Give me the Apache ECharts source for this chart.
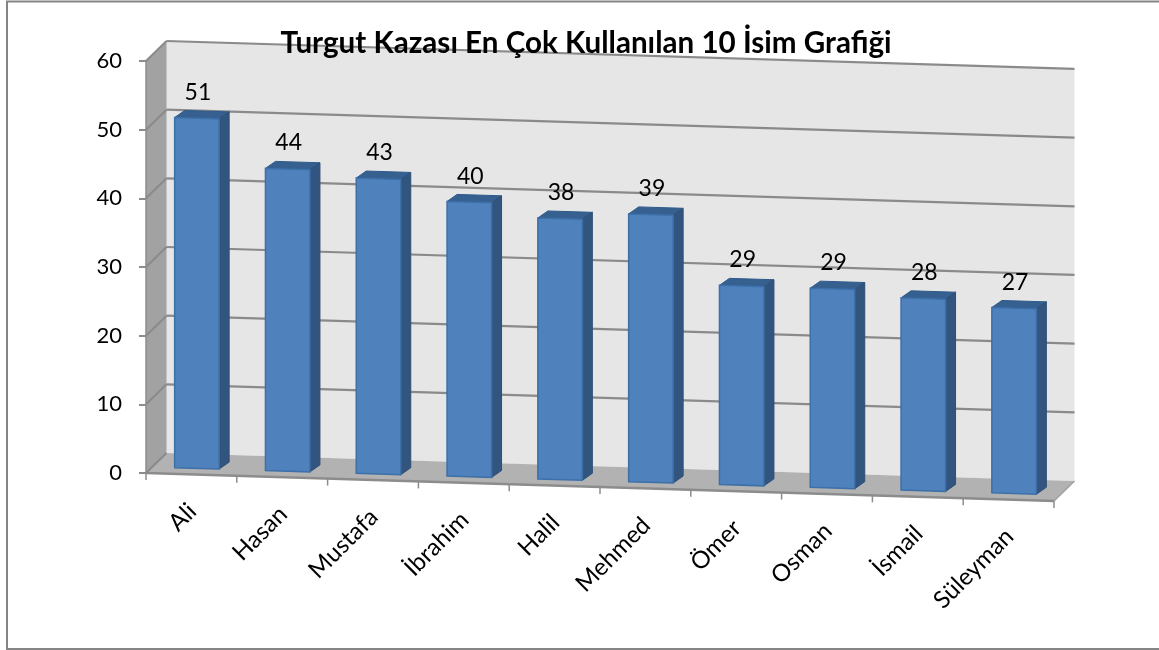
<!DOCTYPE html>
<html><head><meta charset="utf-8">
<style>html,body{margin:0;padding:0;background:#fff}#c{width:1159px;height:650px}</style>
<script src="https://cdn.jsdelivr.net/npm/echarts@6/dist/echarts.min.js"></script>
</head><body><div id="c"></div>
<script>
const categories = ['Ali','Hasan','Mustafa','İbrahim','Halil','Mehmed','Ömer','Osman','İsmail','Süleyman'];
const values = [51,44,43,40,38,39,29,29,28,27];
const yTicks = [0,10,20,30,40,50,60];
const titleText = 'Turgut Kazası En Çok Kullanılan 10 İsim Grafiği';

const FONT = 'Lato';
const SLOPE = 0.0308, DX = 20.5, DY = 20;
const BAR_DX0 = 5.5, BAR_DY0 = 6, BAR_DX1 = 15.5, BAR_DY1 = 13;
const BAR_W = 44.5;
const chart = echarts.init(document.getElementById('c'));
let x0 = 146;
function pt(api, x, val, dx, dy){
  const y = api.coord([0, val])[1];
  return [x + dx, y + SLOPE * (x - x0) - dy];
}
const poly = (points, fill, stroke, lw) => ({type:'polygon', shape:{points}, style:{fill, stroke:stroke||null, lineWidth:lw||0}});
const line = (a,b,color,lw) => ({type:'line', shape:{x1:a[0],y1:a[1],x2:b[0],y2:b[1]}, style:{stroke:color,lineWidth:lw}});

function renderWalls(params, api){
  const r = params.coordSys, L = r.x, R = r.x + r.width, top = yTicks[yTicks.length-1];
  x0 = L;
  const fl = pt(api,L,0,0,0), fr = pt(api,R,0,0,0), br = pt(api,R,0,DX,DY);
  const tr = pt(api,R,top,DX,DY), ftl = pt(api,L,top,0,0);
  const bl = [L+DX, api.coord([0,0])[1]-DY], tl = [L+DX, api.coord([0,top])[1]-DY];
  return {type:'group', children:[
    poly([tl,tr,br,bl],'#e6e6e6'),
    poly([fl,bl,br,fr],'#b2b2b2'),
    poly([ftl,tl,bl,fl],'#a2a2a2'),
    line(ftl,fl,'#8c8c8c',1.5),
    line(tl,bl,'#c4c4c4',1),
    line(fl,fr,'#8c8c8c',2.5),
    line(fr,br,'#a0a0a0',1.5)
  ]};
}
function renderGrid(params, api){
  const r = params.coordSys, L = r.x, R = r.x + r.width, v = api.value(0);
  const a = [L, api.coord([0,v])[1]], b = [L+DX, a[1]-DY], c = pt(api,R,v,DX,DY);
  const kids = [line(a,b,'#8a8a8a',2)];
  if (v !== 0) kids.push(line(b,c,'#8a8a8a',2.2));
  return {type:'group', children:kids};
}
function renderBar(params, api){
  const cat = api.value(0), v = api.value(1);
  const cx = api.coord([cat,0])[0];
  const l = cx - BAR_W/2, rr = cx + BAR_W/2;
  const fbl = pt(api,l,0,BAR_DX0,BAR_DY0), fbr = pt(api,rr,0,BAR_DX0,BAR_DY0);
  const ftl = pt(api,l,v,BAR_DX0,BAR_DY0), ftr = pt(api,rr,v,BAR_DX0,BAR_DY0);
  const bbr = pt(api,rr,0,BAR_DX1,BAR_DY1), btr = pt(api,rr,v,BAR_DX1,BAR_DY1), btl = pt(api,l,v,BAR_DX1,BAR_DY1);
  const lab = pt(api,cx,v,BAR_DX0+1,BAR_DY1+19);
  return {type:'group', children:[
    poly([ftl,btl,btr,ftr],'#36608f','#2f5a8a',1),
    poly([ftr,btr,bbr,fbr],'#32557f','#2e4f76',1),
    poly([ftl,ftr,fbr,fbl],'#4f81bd','#3d6fa8',1.5),
    {type:'text', style:{x:lab[0], y:lab[1], text:String(v), align:'center', verticalAlign:'middle', font:'23px '+FONT, fill:'#000'}}
  ]};
}
function renderXAxis(params, api){
  const i = api.value(0);
  const size = api.size([1,0])[0];
  const cx = api.coord([i,0])[0];
  const edge = cx + size/2;
  const a = pt(api,edge,0,0,0);
  const children = [ line(a,[a[0],a[1]+7],'#8c8c8c',1.5) ];
  if (i === 0) { const s = pt(api,cx-size/2,0,0,0); children.push(line(s,[s[0],s[1]+7],'#8c8c8c',1.5)); }
  const e = pt(api,cx+1,0,0,-33);
  children.push({type:'text', x:e[0], y:e[1], rotation:Math.PI/4, style:{x:0,y:0,text:categories[i],align:'right',verticalAlign:'middle',font:'24px '+FONT,fill:'#000'}});
  return {type:'group', children};
}
chart.setOption({
  animation:false,
  backgroundColor:'#fff',
  title:{text:titleText, left:581, top:23, textAlign:'center', textStyle:{fontFamily:FONT,fontWeight:'bold',fontSize:29.6,color:'#000'}},
  graphic:[{type:'rect', silent:true, z:-10, shape:{x:7,y:1.5,width:1160,height:647.5}, style:{fill:'#fff',stroke:'#858585',lineWidth:2}}],
  grid:{left:146,right:105,top:61,height:412},
  xAxis:{type:'category',data:categories,axisLine:{show:false},axisTick:{show:false},axisLabel:{show:false},splitLine:{show:false}},
  yAxis:{type:'value',min:0,max:60,interval:10,axisLine:{show:false},splitLine:{show:false},
    axisTick:{show:true,length:7,lineStyle:{color:'#8c8c8c',width:2}},
    axisLabel:{fontFamily:FONT,fontSize:22,color:'#000',margin:24}},
  series:[
    {type:'custom',name:'walls',data:[[0]],renderItem:renderWalls,silent:true,z:1,clip:false},
    {type:'custom',name:'grid',data:yTicks.map(v=>[v]),renderItem:renderGrid,silent:true,z:2,clip:false},
    {type:'custom',name:'Değer',data:values.map((v,i)=>[i,v]),renderItem:renderBar,z:3,clip:false},
    {type:'custom',name:'xAxis',data:categories.map((c,i)=>[i]),renderItem:renderXAxis,silent:true,z:4,clip:false}
  ]
});
</script></body></html>
